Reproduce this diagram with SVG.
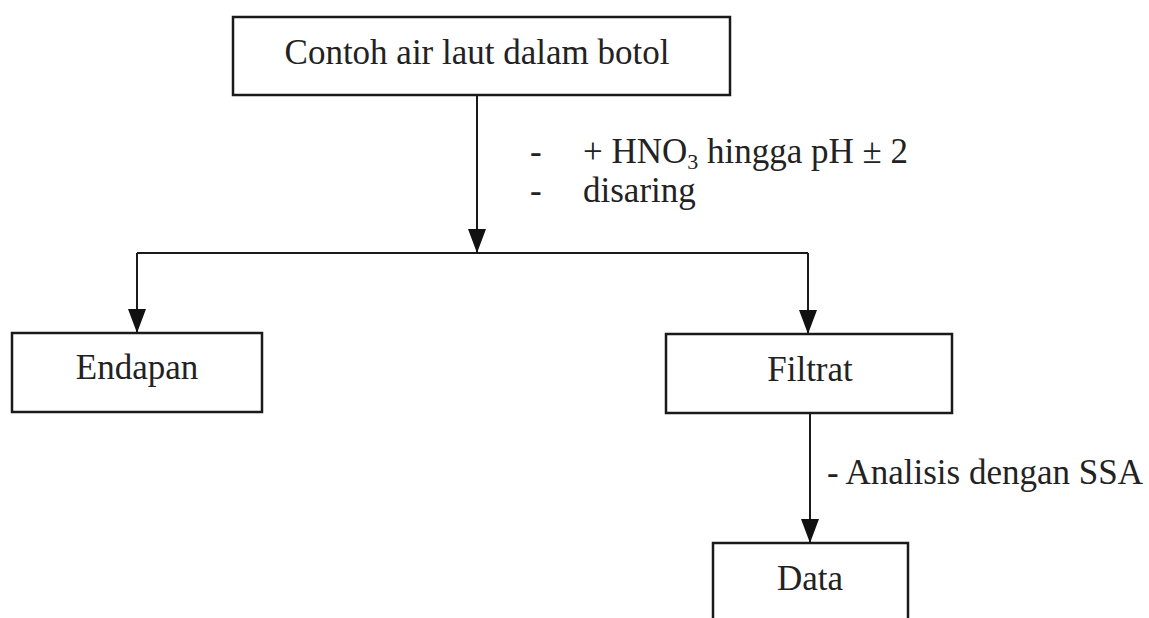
<svg xmlns="http://www.w3.org/2000/svg" width="1149" height="618" viewBox="0 0 1149 618">
<defs>
<style>
.box{fill:#fff;stroke:#1a1a1a;stroke-width:2.5}
.t{font-family:"Liberation Serif","Times New Roman",serif;font-size:35px;fill:#222}
.c{text-anchor:middle}
.ln{fill:none;stroke:#1a1a1a;stroke-width:2}
</style>
<marker id="a2" viewBox="0 0 24 18" refX="24" refY="9" markerWidth="24" markerHeight="18" markerUnits="userSpaceOnUse" orient="auto">
<path d="M0,0 L24,9 L0,18 z" fill="#111"/>
</marker>
</defs>
<rect width="1149" height="618" fill="#fff"/>
<g id="connectors">
<line class="ln" x1="477" y1="95" x2="477" y2="253" marker-end="url(#a2)"/>
<polyline class="ln" points="137,253 808,253"/>
<line class="ln" x1="137" y1="253" x2="137" y2="333" marker-end="url(#a2)"/>
<line class="ln" x1="808" y1="253" x2="808" y2="334" marker-end="url(#a2)"/>
<line class="ln" x1="810" y1="413" x2="810" y2="543" marker-end="url(#a2)"/>
</g>
<g id="n-contoh">
<rect class="box" x="233" y="17" width="497" height="78"/>
<text class="t c" x="477" y="64">Contoh air laut dalam botol</text>
</g>
<g id="label-1">
<text class="t" x="530" y="163">-</text>
<text class="t" x="583" y="163">+ HNO<tspan font-size="22" dy="6">3</tspan><tspan dy="-6"> hingga pH ± 2</tspan></text>
<text class="t" x="530" y="202">-</text>
<text class="t" x="583" y="202">disaring</text>
</g>
<g id="n-endapan">
<rect class="box" x="12" y="333" width="250" height="79"/>
<text class="t c" x="137" y="379">Endapan</text>
</g>
<g id="n-filtrat">
<rect class="box" x="666" y="334" width="286" height="79"/>
<text class="t c" x="810" y="381">Filtrat</text>
</g>
<g id="label-2">
<text class="t" x="827" y="484">- Analisis dengan SSA</text>
</g>
<g id="n-data">
<rect class="box" x="713" y="543" width="195" height="90"/>
<text class="t c" x="810" y="590">Data</text>
</g>
</svg>
